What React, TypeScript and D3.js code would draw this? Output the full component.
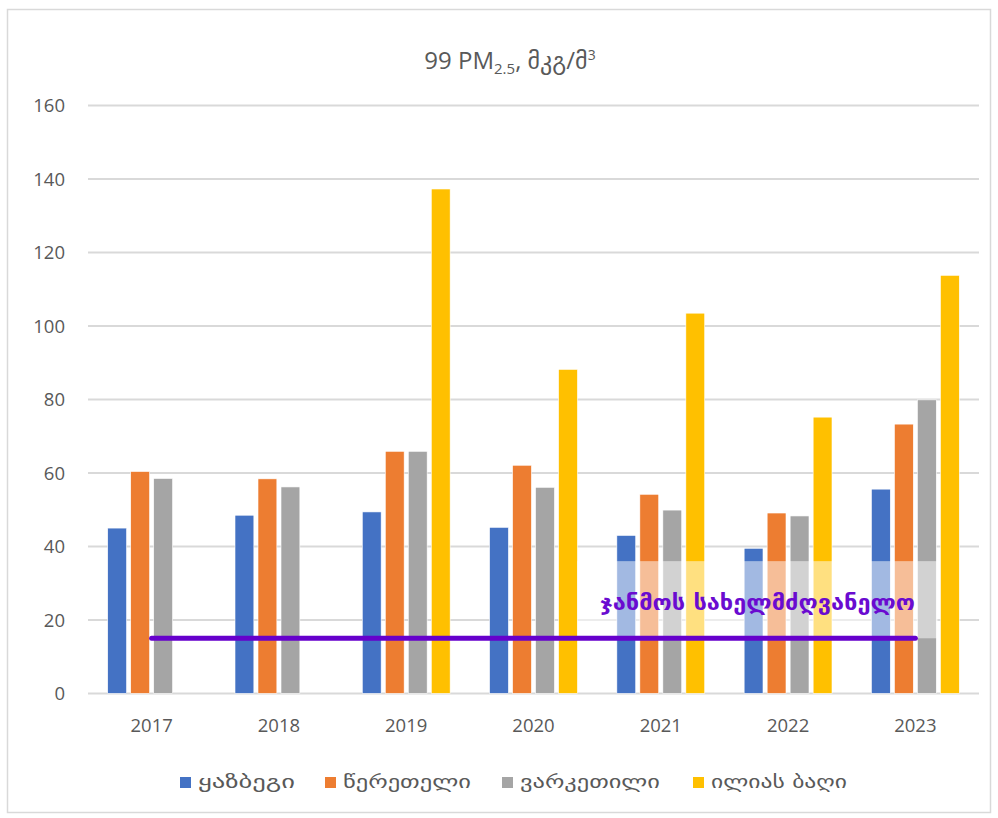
import React, { useEffect, useRef } from "react";
import * as d3 from "d3";

const years = ["2017", "2018", "2019", "2020", "2021", "2022", "2023"];
const seriesNames = ["ყაზბეგი", "წერეთელი", "ვარკეთილი", "ილიას ბაღი"];
const seriesColors = ["#4472C4", "#ED7D31", "#A5A5A5", "#FFC000"];
const kazbegi = [45.0, 48.5, 49.4, 45.2, 43.0, 39.5, 55.6];
const tsereteli = [60.4, 58.4, 65.9, 62.1, 54.2, 49.1, 73.3];
const varketili = [58.5, 56.2, 65.9, 56.1, 49.9, 48.3, 79.9];
const iliasBagi = [null, null, 137.3, 88.2, 103.5, 75.2, 113.8];
const yTicks = [0, 20, 40, 60, 80, 100, 120, 140, 160];
const guidelineValue = 15;
const guidelineLabel = "ჯანმოს სახელმძღვანელო";
const boxTop = 36;

const W = 998;
const H = 818;
const M = { left: 88, right: 979, top: 105.6, bottom: 693.4 };

export default function App() {
  const ref = useRef<SVGSVGElement | null>(null);

  useEffect(() => {
    const svg = d3.select(ref.current);
    svg.selectAll("*").remove();

    const allSeries = [kazbegi, tsereteli, varketili, iliasBagi];

    const x = d3.scaleBand<string>().domain(years).range([M.left, M.right]).padding(0);
    const groupW = 92;
    const xi = d3
      .scaleBand<string>()
      .domain(seriesNames)
      .range([0, groupW])
      .paddingInner(0.18)
      .paddingOuter(0.09);
    const y = d3.scaleLinear().domain([0, 160]).range([M.bottom, M.top]);
    const groupStart = (yr: string) => (x(yr) as number) + (x.bandwidth() - groupW) / 2;

    // frame
    svg
      .append("rect")
      .attr("x", 7.5)
      .attr("y", 9.5)
      .attr("width", 983)
      .attr("height", 803)
      .attr("fill", "#fff")
      .attr("stroke", "#d9d9d9")
      .attr("stroke-width", 1.5);

    // title
    const title = svg
      .append("text")
      .attr("x", 510)
      .attr("y", 69)
      .attr("text-anchor", "middle")
      .attr("fill", "#595959")
      .style("font-family", "'Open Sans', 'DejaVu Sans', sans-serif")
      .style("font-size", "24px");
    title.append("tspan").text("99 PM");
    title.append("tspan").attr("dy", 5).style("font-size", "15px").text("2.5");
    title.append("tspan").attr("dy", -5).text(", მკგ/მ");
    title.append("tspan").attr("dy", -9).style("font-size", "14px").text("3");

    // gridlines
    svg
      .append("g")
      .selectAll("line")
      .data(yTicks)
      .join("line")
      .attr("x1", M.left)
      .attr("x2", M.right)
      .attr("y1", (d) => y(d))
      .attr("y2", (d) => y(d))
      .attr("stroke", "#d9d9d9")
      .attr("stroke-width", 2);

    // y labels
    svg
      .append("g")
      .selectAll("text")
      .data(yTicks)
      .join("text")
      .attr("x", 65)
      .attr("y", (d) => y(d))
      .attr("dy", "0.36em")
      .attr("text-anchor", "end")
      .attr("fill", "#595959")
      .style("font-family", "'Open Sans', sans-serif")
      .style("font-size", "18.5px")
      .text((d) => d);

    // x labels
    svg
      .append("g")
      .selectAll("text")
      .data(years)
      .join("text")
      .attr("x", (d) => (x(d) as number) + x.bandwidth() / 2)
      .attr("y", 732)
      .attr("text-anchor", "middle")
      .attr("fill", "#595959")
      .style("font-family", "'Open Sans', sans-serif")
      .style("font-size", "18.5px")
      .text((d) => d);

    // bars
    allSeries.forEach((vals, si) => {
      const rows = years
        .map((yr, i) => ({ yr, v: vals[i] }))
        .filter((r) => r.v !== null) as { yr: string; v: number }[];
      svg
        .append("g")
        .selectAll("rect")
        .data(rows)
        .join("rect")
        .attr("x", (d) => groupStart(d.yr) + (xi(seriesNames[si]) as number))
        .attr("width", xi.bandwidth())
        .attr("y", (d) => y(d.v))
        .attr("height", (d) => y(0) - y(d.v))
        .attr("fill", seriesColors[si])
        .attr("stroke", "#ffffff")
        .attr("stroke-width", 0.6);
    });

    // annotation box (semi-transparent)
    const bx0 = (x("2021") as number) - 20;
    const bx1 = groupStart("2023") + (xi(seriesNames[2]) as number) + xi.bandwidth() + 1.5;
    svg
      .append("rect")
      .attr("x", bx0)
      .attr("y", y(boxTop))
      .attr("width", bx1 - bx0)
      .attr("height", y(guidelineValue) - y(boxTop))
      .attr("fill", "#ffffff")
      .attr("fill-opacity", 0.5);

    // guideline
    const lx0 = (x(years[0]) as number) + x.bandwidth() / 2;
    const lx1 = (x(years[years.length - 1]) as number) + x.bandwidth() / 2;
    svg
      .append("line")
      .attr("x1", lx0)
      .attr("x2", lx1)
      .attr("y1", y(guidelineValue))
      .attr("y2", y(guidelineValue))
      .attr("stroke", "#6600CC")
      .attr("stroke-width", 5)
      .attr("stroke-linecap", "round");

    svg
      .append("text")
      .attr("x", 600)
      .attr("y", 610)
      .attr("fill", "#6A0BD0")
      .attr("textLength", 315)
      .attr("lengthAdjust", "spacingAndGlyphs")
      .style("font-family", "'DejaVu Sans', sans-serif")
      .style("font-size", "22px")
      .style("font-weight", "bold")
      .text(guidelineLabel);

    // legend
    const legendX = [180, 325, 502, 693];
    const legendW = [97, 128, 140, 136];
    const lg = svg.append("g");
    seriesNames.forEach((name, i) => {
      lg.append("rect")
        .attr("x", legendX[i])
        .attr("y", 777)
        .attr("width", 11)
        .attr("height", 11)
        .attr("fill", seriesColors[i]);
      lg.append("text")
        .attr("x", legendX[i] + 18)
        .attr("y", 788)
        .attr("fill", "#595959")
        .attr("textLength", legendW[i])
        .attr("lengthAdjust", "spacingAndGlyphs")
        .style("font-family", "'DejaVu Sans', sans-serif")
        .style("font-size", "18px")
        .text(name);
    });
  }, []);

  return (
    <svg
      ref={ref}
      width={W}
      height={H}
      style={{ position: "absolute", left: 0, top: 0, background: "#fff" }}
    />
  );
}
